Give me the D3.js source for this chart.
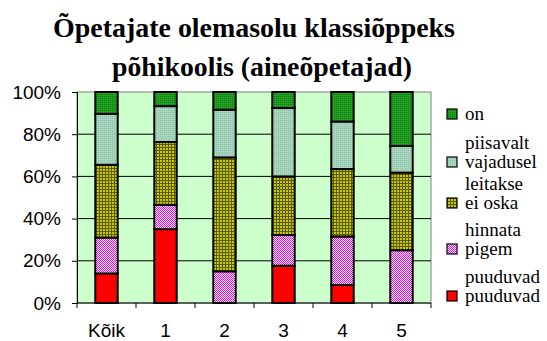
<!DOCTYPE html>
<html>
<head>
<meta charset="utf-8">
<script src="https://cdn.jsdelivr.net/npm/d3@7"></script>
<style>
  body { margin: 0; background: #fff; }
  svg { display: block; }
  .serif { font-family: "Liberation Serif", "DejaVu Serif", "Times New Roman", Times, serif; }
  .sans { font-family: Arial, "Liberation Sans", sans-serif; }
</style>
</head>
<body>
<div id="root"></div>
<script>
// categories and series (percent of each bar)
var categories = ["Kõik", "1", "2", "3", "4", "5"];
var puuduvad = [14, 35, 0, 17.7, 8.5, 0];
var pigem = [17, 11.5, 15, 14.5, 23, 25];
var eiOska = [34.5, 29.8, 54, 27.8, 32, 36.8];
var vajadusel = [24.1, 17, 22.6, 32.4, 22.5, 12.6];
var on = [10.4, 6.7, 8.4, 7.6, 14, 25.6];
var yTicks = [0, 20, 40, 60, 80, 100];
// legend labels, top to bottom (two lines each, as in the original)
var legendLines = [["", "on"], ["piisavalt", "vajadusel"], ["leitakse", "ei oska"], ["hinnata", "pigem"], ["puuduvad", "puuduvad"]];

var w = 547, h = 341;
var margin = {top: 92, right: 116, bottom: 38, left: 77};

var svg = d3.select("#root").append("svg").attr("width", w).attr("height", h);

// fill patterns
var defs = svg.append("defs");
function pat(id, size, bg, draw) {
  var p = defs.append("pattern").attr("id", id).attr("patternUnits", "userSpaceOnUse")
    .attr("width", size).attr("height", size);
  p.append("rect").attr("width", size).attr("height", size).attr("fill", bg);
  draw(p);
}
pat("pRed", 4, "#ff0000", function(p) {});
pat("pPink", 2, "#ffffff", function(p) {
  p.append("rect").attr("width", 1).attr("height", 1).attr("fill", "#ff00ff");
  p.append("rect").attr("x", 1).attr("y", 1).attr("width", 1).attr("height", 1).attr("fill", "#ff00ff");
});
pat("pOlive", 3, "#c8c800", function(p) {
  p.append("rect").attr("width", 3).attr("height", 1).attr("fill", "#5a5a00");
  p.append("rect").attr("width", 1).attr("height", 3).attr("fill", "#5a5a00");
});
pat("pTeal", 2, "#a6d6bd", function(p) {
  p.append("rect").attr("width", 1).attr("height", 1).attr("fill", "#8fbfa6");
});
pat("pGreen", 2, "#22a022", function(p) {
  p.append("rect").attr("width", 1).attr("height", 1).attr("fill", "#127812");
});
var fills = ["url(#pRed)", "url(#pPink)", "url(#pOlive)", "url(#pTeal)", "url(#pGreen)"];

// title
var title = svg.append("text").attr("class", "serif").attr("text-anchor", "middle")
  .style("font-weight", "bold").style("font-size", "28px");
title.append("tspan").attr("x", 254).attr("y", 37)
  .attr("textLength", 402).attr("lengthAdjust", "spacingAndGlyphs").text("Õpetajate olemasolu klassiõppeks");
title.append("tspan").attr("x", 262).attr("y", 76)
  .attr("textLength", 300).attr("lengthAdjust", "spacingAndGlyphs").text("põhikoolis (aineõpetajad)");

var xScale = d3.scaleBand().domain(categories)
  .range([margin.left, w - margin.right]).paddingInner(0.62).paddingOuter(0.31);
var yScale = d3.scaleLinear().domain([0, 100]).range([h - margin.bottom, margin.top]);

// plot area
svg.append("rect").attr("x", margin.left).attr("y", margin.top)
  .attr("width", w - margin.left - margin.right).attr("height", h - margin.top - margin.bottom)
  .attr("fill", "#ccffcc").attr("stroke", "#808080").attr("stroke-width", 1);

// gridlines
svg.append("g").selectAll("line").data(yTicks.slice(1, 5)).enter().append("line")
  .attr("x1", margin.left).attr("x2", w - margin.right)
  .attr("y1", function(d) { return yScale(d); }).attr("y2", function(d) { return yScale(d); })
  .attr("stroke", "#000").attr("stroke-width", 1);

// stacked data
var rows = categories.map(function(c, i) {
  return {cat: c, s0: puuduvad[i], s1: pigem[i], s2: eiOska[i], s3: vajadusel[i], s4: on[i]};
});
var stack = d3.stack().keys(["s0", "s1", "s2", "s3", "s4"])(rows);

svg.append("g").selectAll("g").data(stack).enter().append("g")
  .attr("fill", function(d, i) { return fills[i]; })
  .selectAll("rect").data(function(d) { return d.filter(function(e) { return e[1] - e[0] > 0; }); })
  .enter().append("rect")
  .attr("x", function(d) { return xScale(d.data.cat); })
  .attr("width", xScale.bandwidth())
  .attr("y", function(d) { return yScale(d[1]); })
  .attr("height", function(d) { return yScale(d[0]) - yScale(d[1]); })
  .attr("stroke", "#000").attr("stroke-width", 2);

// axes
var yAxis = d3.axisLeft(yScale).tickValues(yTicks).tickSize(5).tickFormat(function(d) { return d + "%"; });
var gy = svg.append("g").attr("transform", "translate(" + margin.left + ",0)").call(yAxis);
gy.select(".domain").attr("stroke", "#000");
gy.selectAll(".tick line").attr("stroke", "#000");
gy.selectAll("text").attr("x", -16).attr("fill", "#000").attr("class", "sans")
  .style("font-family", null).style("font-size", "19px");

var xEdges = d3.range(categories.length + 1).map(function(i) {
  return margin.left + i * (w - margin.left - margin.right) / categories.length;
});
var gx = svg.append("g");
gx.append("line").attr("x1", margin.left).attr("x2", w - margin.right)
  .attr("y1", h - margin.bottom).attr("y2", h - margin.bottom).attr("stroke", "#000");
gx.selectAll("line.t").data(xEdges).enter().append("line").attr("class", "t")
  .attr("x1", function(d) { return d; }).attr("x2", function(d) { return d; })
  .attr("y1", h - margin.bottom).attr("y2", h - margin.bottom + 5).attr("stroke", "#000");
gx.selectAll("text").data(categories).enter().append("text").attr("class", "sans")
  .attr("x", function(d) { return xScale(d) + xScale.bandwidth() / 2; })
  .attr("y", 337).attr("text-anchor", "middle").style("font-size", "19px")
  .text(function(d) { return d; });

// legend (top to bottom: reversed series order)
var legend = svg.append("g").attr("class", "serif").style("font-size", "19px");
var legendY = [114, 162, 203, 249, 296];
legendLines.forEach(function(ln, k) {
  var y = legendY[k];
  legend.append("rect").attr("x", 447).attr("y", y - 5).attr("width", 10).attr("height", 10)
    .attr("fill", fills[4 - k]).attr("stroke", "#000").attr("stroke-width", 1.2);
  legend.append("text").attr("x", 465).attr("y", y + 6).text(ln[1]);
  if (ln[0]) legend.append("text").attr("x", 465).attr("y", y - 13).text(ln[0]);
});
</script>
</body>
</html>
